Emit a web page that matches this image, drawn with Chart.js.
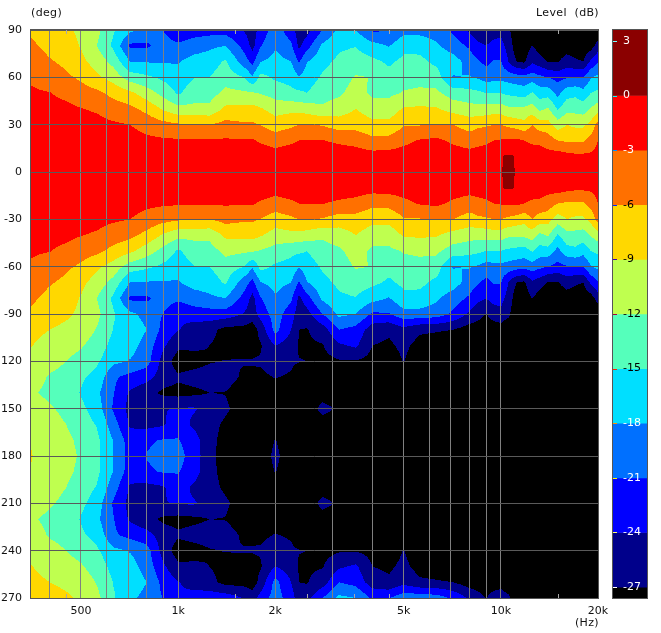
<!DOCTYPE html>
<html><head><meta charset="utf-8">
<style>html,body{margin:0;padding:0;background:#fff}canvas{position:absolute;left:0;top:0}</style>
<script src="https://cdn.jsdelivr.net/npm/chart.js@4"></script></head>
<body><canvas id="main" width="661" height="633"></canvas><canvas id="bar" width="661" height="633"></canvas>
<script>
const FONT='"DejaVu Sans"';
const frequencies=[350,400,450,500,560,630,710,800,900,1000,1120,1250,1400,1600,1700,1800,2000,2240,2370,2500,2800,3150,3550,4000,4500,5000,5600,6300,7100,8000,8500,9000,9500,10000,10250,10600,10950,11200,11800,12500,13200,14000,15000,16000,17000,18000,19000,20000];
const halfAngles=[0,10,20,30,40,50,60,70,80,90,100,110,120,130,140,150,160,170,180];
// one line per frequency: level (dB) at 0,10,...,180 degrees off axis
const levels=[
[-0.2,-0.6,-1.1,-1.6,-2.1,-2.7,-3.3,-4,-5.4,-6.5,-8.2,-8.9,-9.7,-10.6,-11.6,-10.4,-9.8,-9.1,-8.9],
[-0.2,-0.6,-1.1,-1.6,-2.2,-2.9,-4.2,-5.7,-7,-7.7,-9,-10,-11,-12.3,-12.7,-11.6,-10.8,-10.2,-10],
[-0.2,-0.6,-1.2,-1.7,-2.3,-3.7,-5.5,-6.7,-7.7,-8.5,-9.7,-11,-12,-13,-13.5,-12.8,-12,-11.4,-11.2],
[-0.2,-0.7,-1.5,-2.2,-2.9,-4.6,-6.5,-8.2,-9.2,-9.6,-10.3,-11.7,-13,-14.5,-15.2,-14.3,-13.5,-12.6,-12.3],
[-0.2,-0.8,-1.5,-2.2,-3.3,-5.3,-8.4,-10.3,-12,-11.2,-12.2,-13.3,-14.5,-16,-17.4,-16.4,-15.2,-14.3,-14.3],
[-0.2,-0.9,-1.6,-2.6,-4.4,-6.9,-10.2,-13,-15.6,-14.7,-15.1,-16,-17.3,-20.5,-20.8,-21.4,-19.6,-18.1,-18],
[-0.2,-0.9,-1.9,-3,-5.2,-8.3,-13.5,-18,-21.6,-17.3,-16,-16.8,-18.2,-22,-24.5,-25,-24.5,-22.5,-22.3],
[-0.2,-1,-2.4,-4,-6.9,-10.6,-14.5,-18.2,-21.5,-19,-18,-19.3,-19.8,-23,-26,-25.5,-25,-21.3,-20.9],
[-0.2,-1.1,-2.6,-5,-9.4,-13,-15.6,-18.3,-19.7,-21.1,-22,-23.5,-25.3,-25.5,-27.6,-24.2,-24.3,-20.8,-20.3],
[-0.1,-1.1,-2.7,-5.6,-11,-15.4,-16.8,-18.2,-20.4,-23.5,-23.8,-26.4,-28.5,-26.5,-28,-23.7,-22.2,-20.8,-20],
[-0.1,-1.1,-2.7,-5.6,-11.2,-13.4,-15.1,-16.9,-19.4,-22.5,-25.5,-26.5,-28,-26,-27.6,-23.7,-24.7,-22.6,-22.3],
[-0.1,-1.1,-2.7,-6,-11.2,-13.3,-15,-16.5,-18.6,-22.3,-26,-27,-27.2,-25.8,-27,-25,-26,-26.3,-26.3],
[-0.1,-1.1,-2.7,-5,-8.4,-11.2,-13.3,-14.6,-18,-22.3,-28,-28,-26.9,-25.8,-27.1,-26.5,-27.5,-27.8,-28],
[-0.1,-1.1,-2.7,-5.6,-8.2,-11.5,-15,-19.6,-22,-24.2,-28,-28,-26.8,-27.5,-28.5,-28.5,-28.5,-28.5,-28.5],
[-0.1,-1.1,-2.7,-5.6,-8,-11.7,-17.6,-21.8,-25,-25.5,-28.5,-28,-26.8,-27.5,-28.5,-28.5,-28.5,-28.5,-28.5],
[-0.1,-1.2,-3.4,-6.1,-8.7,-12.2,-14,-18.1,-21.2,-22.8,-26,-27.3,-26.7,-27.5,-28.5,-28.5,-28.5,-28.5,-28.5],
[-0.2,-1.7,-4.2,-7.6,-10.2,-13.2,-15.5,-17,-18.3,-19.6,-20,-24,-25.7,-26.9,-28,-28,-28.3,-26.9,-26.4],
[-0.1,-1.4,-3.5,-6.6,-9.9,-14.3,-16,-18,-20.5,-22.6,-24,-25.5,-26.6,-27.3,-28.5,-28.5,-28.5,-28.5,-28.5],
[-0.1,-1.3,-3,-6,-10,-14.4,-17.8,-21.3,-24.7,-25.7,-27,-27.3,-26.9,-28.5,-28.5,-28.5,-28.5,-28.5,-28.5],
[-0.1,-1.3,-3,-6,-10.3,-15,-16.6,-18.2,-22.4,-25.2,-27.2,-27.5,-27,-28.5,-28.5,-28.5,-28.5,-28.5,-28.5],
[-0.1,-1.3,-2.9,-6.2,-11.5,-13.2,-14.6,-15.8,-17.4,-21,-25.5,-27.2,-28,-28.5,-28,-26.3,-28,-28.5,-28.5],
[-0.1,-1.4,-3.5,-7.4,-10.5,-12.5,-13.6,-14.4,-15.5,-17.3,-21,-24.5,-27.3,-28.5,-28.5,-27.3,-28.5,-28.5,-28.5],
[-0.2,-1.5,-4,-7.1,-9,-10.7,-11.7,-13.7,-15.1,-18,-22,-23.5,-27.2,-29,-29,-29,-29,-29,-29],
[-0.2,-1.8,-5.2,-8.2,-10.5,-12.6,-12.1,-14.3,-16.9,-21.5,-25.6,-27,-28,-29,-29,-29,-29,-29,-29],
[-0.2,-1.7,-5,-8.2,-10.6,-12.6,-14,-15.5,-18.2,-21.2,-26.5,-27.5,-28.5,-29,-29,-29,-29,-29,-29],
[-0.2,-1.5,-3.8,-6.3,-8.7,-11.8,-13.1,-14.3,-15.8,-19,-25,-26.3,-26.9,-28.5,-29,-29,-29,-29,-29],
[-0.1,-1.2,-2.8,-6.2,-8.5,-11.4,-13,-14.2,-16,-19,-26.5,-28,-29,-29,-29,-29,-29,-29,-29],
[-0.1,-1,-2.4,-5.8,-8.7,-11.3,-13.6,-15.7,-17.5,-19.5,-26.7,-28.5,-29,-29,-29,-29,-29,-29,-29],
[-0.1,-1.5,-3.5,-6,-10.1,-13.4,-18.2,-16.5,-19.5,-21.5,-27,-29,-29,-29,-29,-29,-29,-29,-29],
[-0.2,-1.8,-4.4,-7.3,-10.8,-14,-17.8,-19.4,-21.5,-24.5,-28.5,-29,-29,-29,-29,-29,-29,-29,-29],
[-0.2,-1.6,-3.9,-6.6,-11,-14.4,-18.4,-20.7,-23.3,-26,-28.5,-29,-29,-29,-29,-29,-29,-29,-29],
[-0.2,-1.4,-3.6,-6.4,-10.8,-15,-19.2,-21.8,-23.9,-27.1,-28.5,-29,-29,-29,-29,-29,-29,-29,-29],
[-0.1,-1,-3,-6,-10.5,-15,-19,-20.8,-22.8,-25.8,-28.5,-29,-29,-29,-29,-29,-29,-29,-29],
[-0.2,-0.8,-2.8,-6,-10.5,-15,-18.8,-20.8,-22.8,-25,-28.5,-29,-29,-29,-29,-29,-29,-29,-29],
[0.5,0.25,-2.7,-6.3,-11,-15.3,-19,-22.5,-24,-25.7,-29,-29,-29,-29,-29,-29,-29,-29,-29],
[0.7,0.3,-2.6,-6.7,-11.5,-15.6,-19.3,-24.2,-25.2,-26.5,-29,-29,-29,-29,-29,-29,-29,-29,-29],
[0.3,0.1,-2.5,-7,-11.5,-15.8,-19.5,-26,-27.5,-28.5,-29,-29,-29,-29,-29,-29,-29,-29,-29],
[-0.5,-0.9,-2.4,-7.3,-11.6,-15.9,-19.7,-27,-29,-29.5,-30,-30,-30,-30,-30,-30,-30,-30,-30],
[-0.2,-1.3,-3,-8.1,-11.3,-16.4,-19.9,-27.5,-29,-29,-30,-30,-30,-30,-30,-30,-30,-30,-30],
[-0.3,-1.5,-3.5,-6,-10.6,-14.7,-19.5,-24.5,-26.9,-29,-30,-30,-30,-30,-30,-30,-30,-30,-30],
[-0.3,-1.5,-3.7,-7.5,-12.7,-16.4,-20.3,-25.7,-28.5,-29.5,-30,-30,-30,-30,-30,-30,-30,-30,-30],
[-0.3,-1.8,-4.5,-7.8,-11.6,-16.2,-21,-27.2,-29.5,-30,-30,-30,-30,-30,-30,-30,-30,-30,-30],
[-0.3,-1.5,-6,-10.5,-15.3,-18.9,-22,-27.2,-29,-30,-30,-30,-30,-30,-30,-30,-30,-30,-30],
[-0.3,-2,-6.4,-9,-13,-16.2,-21.3,-25.7,-28.5,-30,-30,-30,-30,-30,-30,-30,-30,-30,-30],
[-0.3,-2.3,-6.5,-9.6,-13,-15.7,-21,-26.5,-29,-30,-30,-30,-30,-30,-30,-30,-30,-30,-30],
[-0.4,-2.3,-6.5,-9.6,-13.4,-16.9,-21,-27,-29,-30,-30,-30,-30,-30,-30,-30,-30,-30,-30],
[-0.5,-2.4,-4.8,-8.1,-11.8,-15,-18.2,-23.4,-28.5,-30,-30,-30,-30,-30,-30,-30,-30,-30,-30],
[-1.5,-2.1,-3,-4.8,-10.4,-14.3,-17.2,-21.3,-25.6,-29.5,-30,-30,-30,-30,-30,-30,-30,-30,-30]
];
const bandEdges=[3.6,0,-3,-6,-9,-12,-15,-18,-21,-24,-27,-27.6];
const bandColors=['#8b0000','#ff0000','#ff7000','#ffd800','#bfff4f','#55ffbb','#00dfff','#0070ff','#0000ff','#00008b','#000000'];
const colorbarTicks=[3,0,-3,-6,-9,-12,-15,-18,-21,-24,-27];
const darkLabelTicks=[-6,-9,-12,-15];
const xGridTicks=[400,500,600,700,800,900,1000,2000,3000,4000,5000,6000,7000,8000,9000,10000,20000];
const xLabels={500:'500',1000:'1k',2000:'2k',5000:'5k',10000:'10k',20000:'20k'};
const xMinorMarks=[450,1500,2500,3500,4500,15000];
const angleRows=[];for(let a=90;a>=-270;a-=10)angleRows.push(a);

function halfIndex(a){let h=Math.abs(a);if(h>180)h=360-h;return halfAngles.indexOf(h);}
const gridPoints=[];
angleRows.forEach(a=>frequencies.forEach((f,i)=>gridPoints.push({x:f,y:a,v:levels[i][halfIndex(a)]})));

function hexRgb(h){return [1,3,5].map(i=>parseInt(h.substr(i,2),16));}
const bandRgb=bandColors.map(hexRgb);
function bandOf(v){for(let i=1;i<bandEdges.length-1;i++){if(v>=bandEdges[i])return i-1;}return bandColors.length-1;}

const contourPlugin={id:'contour',beforeDatasetsDraw(chart){
  const pts=chart.getDatasetMeta(0).data,nc=frequencies.length,nr=angleRows.length,A=chart.chartArea;
  const xs=frequencies.map((_,i)=>pts[i].x),ys=angleRows.map((_,r)=>pts[r*nc].y);
  const x0=Math.round(A.left),y0=Math.round(A.top),w=Math.round(A.right)-x0,h=Math.round(A.bottom)-y0;
  const off=document.createElement('canvas');off.width=w;off.height=h;
  const c=off.getContext('2d'),img=c.createImageData(w,h),d=img.data;
  const vals=gridPoints.map(p=>p.v);
  let rowI=0;
  for(let py=0;py<h;py++){
    const Y=y0+py+0.5;while(rowI<nr-2&&ys[rowI+1]<Y)rowI++;
    const t=Math.min(1,Math.max(0,(Y-ys[rowI])/(ys[rowI+1]-ys[rowI])));
    let colI=0;
    for(let px=0;px<w;px++){
      const X=x0+px+0.5;while(colI<nc-2&&xs[colI+1]<X)colI++;
      const s=Math.min(1,Math.max(0,(X-xs[colI])/(xs[colI+1]-xs[colI])));
      const k=rowI*nc+colI;
      const v=(vals[k]*(1-s)+vals[k+1]*s)*(1-t)+(vals[k+nc]*(1-s)+vals[k+nc+1]*s)*t;
      const col=bandRgb[bandOf(v)],o=(py*w+px)*4;
      d[o]=col[0];d[o+1]=col[1];d[o+2]=col[2];d[o+3]=255;
    }
  }
  c.putImageData(img,0,0);
  chart.ctx.drawImage(off,x0,y0);
},afterDraw(chart){
  const ctx=chart.ctx,A=chart.chartArea,X=chart.scales.x;
  ctx.save();
  ctx.strokeStyle='#a8a8a8';ctx.lineWidth=1;
  xMinorMarks.forEach(f=>{const p=Math.round(X.getPixelForValue(f))+0.5;
    ctx.beginPath();ctx.moveTo(p,A.top);ctx.lineTo(p,A.top+4);ctx.moveTo(p,A.bottom-4);ctx.lineTo(p,A.bottom);ctx.stroke();});
  ctx.strokeStyle='#555';ctx.lineWidth=1;
  ctx.strokeRect(Math.round(A.left)-0.5,Math.round(A.top)-0.5,Math.round(A.right-A.left)+1,Math.round(A.bottom-A.top)+1);
  ctx.fillStyle='#111';ctx.font='11px '+FONT;ctx.textBaseline='middle';ctx.letterSpacing='0.35px';
  ctx.textAlign='left';ctx.fillText('(deg)',31,13);
  ctx.textAlign='right';ctx.fillText('Level  (dB)',599,13);ctx.fillText('(Hz)',599,623);
  ctx.restore();
}};

new Chart(document.getElementById('main'),{
  type:'scatter',
  data:{datasets:[{label:'Level (dB)',data:gridPoints,pointRadius:0,pointHoverRadius:0,showLine:false}]},
  plugins:[contourPlugin],
  options:{responsive:false,animation:false,devicePixelRatio:1,
    layout:{padding:{left:0,top:30,right:63,bottom:0}},
    plugins:{legend:{display:false},tooltip:{enabled:false}},
    scales:{
      x:{type:'logarithmic',min:350,max:20000,
        afterBuildTicks(s){s.ticks=xGridTicks.map(v=>({value:v}));},
        afterFit(s){s.height=35;},
        grid:{color:'#808080',z:1,drawTicks:false,lineWidth:1},border:{display:false},
        ticks:{autoSkip:false,maxRotation:0,minRotation:0,padding:7,color:'#111',font:{family:FONT,size:11},
          callback(v){return xLabels[v]||'';}}},
      y:{type:'linear',min:-270,max:90,
        afterFit(s){s.width=31;},
        grid:{color:'#5a5a5a',z:1,drawTicks:false,lineWidth:1},border:{display:false},
        ticks:{stepSize:30,padding:9,color:'#111',font:{family:FONT,size:11},
          callback(v){return v<-90?String(-v):String(v);}}}
    }}
});

const barPlugin={id:'barFrame',afterDraw(chart){
  const ctx=chart.ctx,A=chart.chartArea,Y=chart.scales.y;
  ctx.save();
  colorbarTicks.forEach(t=>{
    const c=bandRgb[bandOf(t-0.01)];
    ctx.strokeStyle=`rgb(${255-c[0]},${255-c[1]},${255-c[2]})`;
    const p=Math.round(Y.getPixelForValue(t))+0.5;
    ctx.beginPath();ctx.moveTo(A.left,p);ctx.lineTo(A.left+4,p);ctx.stroke();});
  ctx.strokeStyle='#555';ctx.lineWidth=1;
  ctx.strokeRect(Math.round(A.left)-0.5,Math.round(A.top)-0.5,Math.round(A.right-A.left)+1,Math.round(A.bottom-A.top)+1);
  ctx.restore();
}};
new Chart(document.getElementById('bar'),{
  type:'bar',
  data:{labels:['Level'],datasets:bandColors.map((c,i)=>({label:String(bandEdges[i]),data:[[bandEdges[i+1],bandEdges[i]]],backgroundColor:c,borderWidth:0,barPercentage:1,categoryPercentage:1,grouped:false}))},
  plugins:[barPlugin],
  options:{responsive:false,animation:false,devicePixelRatio:1,
    layout:{padding:{left:613,top:30,right:14,bottom:35}},
    plugins:{legend:{display:false},tooltip:{enabled:false}},
    scales:{
      x:{display:false},
      y:{min:-27.6,max:3.6,grid:{display:false},border:{display:false},
        afterFit(s){s.width=0;},
        afterBuildTicks(s){s.ticks=colorbarTicks.map(v=>({value:v}));},
        ticks:{mirror:true,z:1,padding:10,autoSkip:false,font:{family:FONT,size:11},
          color(ctx){return darkLabelTicks.includes(ctx.tick.value)?'#000':'#fff';},
          callback(v){return String(v);}}}
    }}
});
</script></body></html>
